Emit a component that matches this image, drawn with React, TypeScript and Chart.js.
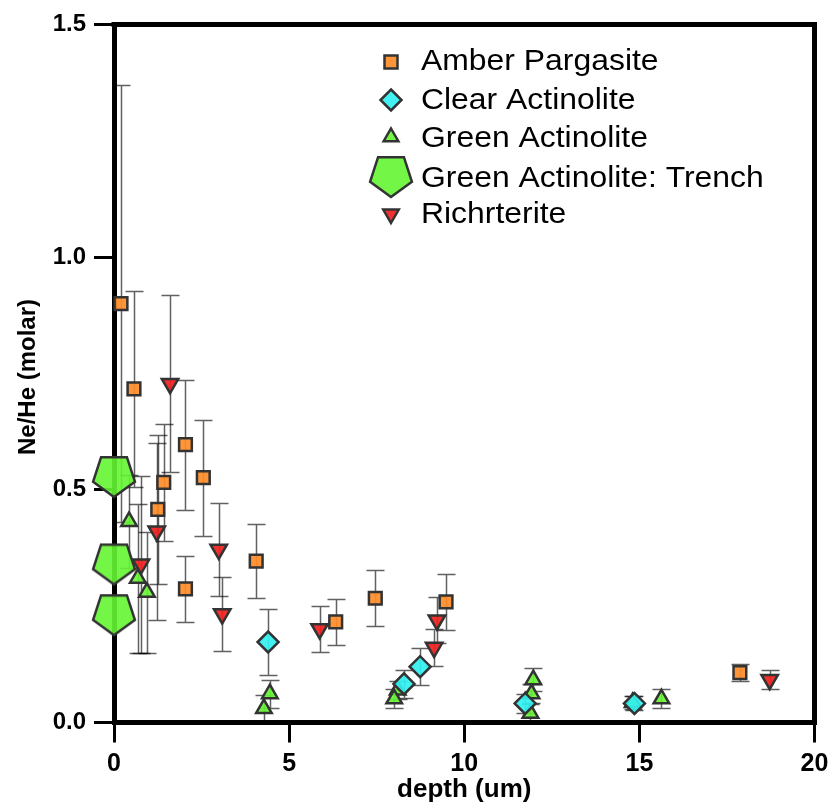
import React, { useEffect, useRef } from "react";
import { Chart, registerables } from "chart.js";
Chart.register(...registerables);

const xTickValues = [0, 5, 10, 15, 20];
const yTickValues = [0, 0.5, 1.0, 1.5];

const seriesNames = [
  "Amber Pargasite",
  "Clear Actinolite",
  "Green Actinolite",
  "Green Actinolite: Trench",
  "Richrterite",
];

const amberX = [0.2, 0.57, 1.25, 1.42, 2.04, 2.55, 2.04, 4.06, 6.33, 7.46, 9.48, 17.87];
const amberY = [0.9, 0.717, 0.458, 0.516, 0.597, 0.526, 0.287, 0.347, 0.216, 0.267, 0.259, 0.107];
const amberErr = [0.47, 0.21, 0.16, 0.125, 0.14, 0.125, 0.07, 0.08, 0.05, 0.06, 0.06, 0.018];

const clearX = [4.4, 8.28, 8.74, 11.74, 14.86];
const clearY = [0.173, 0.083, 0.12, 0.041, 0.041];
const clearErr = [0.07, 0.03, 0.04, 0.02, 0.015];

const greenX = [0.43, 0.68, 0.94, 4.45, 4.28, 8.1, 8.0, 11.97, 11.92, 11.89, 14.81, 15.63];
const greenY = [0.432, 0.31, 0.28, 0.062, 0.03, 0.07, 0.051, 0.092, 0.062, 0.02, 0.043, 0.051];
const greenErr = [0.1, 0.16, 0.13, 0.03, 0.03, 0.02, 0.02, 0.025, 0.02, 0.02, 0.015, 0.02];

const trenchX = [0, 0, 0];
const trenchY = [0.532, 0.344, 0.235];

const richX = [1.6, 1.22, 0.77, 2.99, 3.09, 5.87, 9.22, 9.14, 18.72];
const richY = [0.728, 0.411, 0.34, 0.372, 0.233, 0.201, 0.22, 0.161, 0.092];
const richErr = [0.19, 0.19, 0.19, 0.1, 0.08, 0.05, 0.05, 0.04, 0.02];

const ORANGE = "rgba(255,140,40,0.92)";
const CYAN = "rgba(50,240,240,0.92)";
const GREEN = "rgba(100,245,50,0.9)";
const RED = "rgba(240,30,30,0.92)";
const EDGE = "#333333";

function pts(xs: number[], ys: number[]) {
  return xs.map((x, i) => ({ x, y: ys[i] }));
}

function makePentagon(r: number): HTMLCanvasElement {
  const c = document.createElement("canvas");
  const s = Math.ceil(r * 2 + 6);
  c.width = s;
  c.height = s;
  const g = c.getContext("2d")!;
  const cx = s / 2;
  const cy = s / 2;
  g.beginPath();
  for (let k = 0; k < 5; k++) {
    const a = Math.PI / 2 + (k * 2 * Math.PI) / 5;
    const px = cx + r * Math.cos(a);
    const py = cy + r * Math.sin(a);
    if (k === 0) g.moveTo(px, py);
    else g.lineTo(px, py);
  }
  g.closePath();
  g.fillStyle = GREEN;
  g.fill();
  g.lineWidth = 2.5;
  g.strokeStyle = EDGE;
  g.lineJoin = "miter";
  g.stroke();
  return c;
}

function drawMarker(ctx: CanvasRenderingContext2D, kind: string, x: number, y: number, pent: HTMLCanvasElement) {
  ctx.save();
  ctx.lineWidth = 2.5;
  ctx.strokeStyle = EDGE;
  ctx.beginPath();
  if (kind === "square") {
    ctx.rect(x - 6.5, y - 6.5, 13, 13);
    ctx.fillStyle = ORANGE;
  } else if (kind === "diamond") {
    const r = 10.5;
    ctx.moveTo(x, y - r);
    ctx.lineTo(x + r, y);
    ctx.lineTo(x, y + r);
    ctx.lineTo(x - r, y);
    ctx.closePath();
    ctx.fillStyle = CYAN;
  } else if (kind === "up") {
    const r = 8.5;
    ctx.moveTo(x, y - r);
    ctx.lineTo(x + r * 0.866, y + r * 0.5);
    ctx.lineTo(x - r * 0.866, y + r * 0.5);
    ctx.closePath();
    ctx.fillStyle = GREEN;
  } else if (kind === "down") {
    const r = 9;
    ctx.moveTo(x, y + r);
    ctx.lineTo(x + r * 0.866, y - r * 0.5);
    ctx.lineTo(x - r * 0.866, y - r * 0.5);
    ctx.closePath();
    ctx.fillStyle = RED;
  } else if (kind === "pent") {
    ctx.drawImage(pent, x - pent.width / 2, y - pent.height / 2);
    ctx.restore();
    return;
  }
  ctx.fill();
  ctx.stroke();
  ctx.restore();
}

export default function App() {
  const ref = useRef<HTMLCanvasElement | null>(null);

  useEffect(() => {
    document.body.style.margin = "0";
    const canvas = ref.current!;
    const pent = makePentagon(22);

    const errorBars = {
      id: "errorBars",
      beforeDatasetsDraw(chart: any) {
        const { ctx } = chart;
        const xs = chart.scales.x;
        const ys = chart.scales.y;
        ctx.save();
        ctx.strokeStyle = "rgba(0,0,0,0.62)";
        ctx.lineWidth = 1.5;
        chart.data.datasets.forEach((ds: any) => {
          if (!ds.errors) return;
          ds.data.forEach((p: any, i: number) => {
            const e = ds.errors[i];
            const px = Math.round(xs.getPixelForValue(p.x)) + 0.5;
            const t = Math.round(ys.getPixelForValue(p.y + e)) + 0.5;
            const b = Math.round(ys.getPixelForValue(p.y - e)) + 0.5;
            ctx.beginPath();
            ctx.moveTo(px, t);
            ctx.lineTo(px, b);
            ctx.moveTo(px - 9, t);
            ctx.lineTo(px + 9, t);
            ctx.moveTo(px - 9, b);
            ctx.lineTo(px + 9, b);
            ctx.stroke();
          });
        });
        ctx.restore();
      },
    };

    const frame = {
      id: "frame",
      beforeDatasetsDraw(chart: any) {
        const { ctx, chartArea: a } = chart;
        ctx.save();
        ctx.strokeStyle = "#000";
        ctx.lineWidth = 5;
        ctx.beginPath();
        ctx.moveTo(a.left - 2.5, a.top);
        ctx.lineTo(a.right, a.top);
        ctx.lineTo(a.right, a.bottom + 2.5);
        ctx.stroke();
        ctx.restore();
      },
    };

    const annotations = {
      id: "annotations",
      afterDraw(chart: any) {
        const { ctx, chartArea: a } = chart;
        ctx.save();
        ctx.fillStyle = "#000";
        ctx.font = "bold 26px 'Liberation Sans', Arial, sans-serif";
        ctx.textAlign = "center";
        ctx.textBaseline = "middle";
        ctx.fillText("depth (um)", (a.left + a.right) / 2, 790);
        ctx.font = "bold 24px 'Liberation Sans', Arial, sans-serif";
        ctx.save();
        ctx.translate(28, 377);
        ctx.rotate(-Math.PI / 2);
        ctx.fillText("Ne/He (molar)", 0, 0);
        ctx.restore();

        const kinds = ["square", "diamond", "up", "pent", "down"];
        const markerY = [62, 100, 137, 175, 214];
        const baseY = [70, 109, 147, 187, 223];
        ctx.font = "29px 'Liberation Sans', Arial, sans-serif";
        ctx.textAlign = "left";
        ctx.textBaseline = "alphabetic";
        seriesNames.forEach((name, i) => {
          drawMarker(ctx, kinds[i], 391, markerY[i], pent);
          ctx.save();
          ctx.translate(421, baseY[i]);
          ctx.scale(1.1, 1);
          ctx.fillText(name, 0, 0);
          ctx.restore();
        });
        ctx.restore();
      },
    };

    const common = {
      pointBorderColor: EDGE,
      pointBorderWidth: 2.5,
      showLine: false,
      clip: false as any,
    };

    const chart = new Chart(canvas, {
      type: "scatter",
      data: {
        datasets: [
          {
            ...common,
            label: seriesNames[0],
            data: pts(amberX, amberY),
            errors: amberErr,
            pointStyle: "rect",
            pointRadius: 9,
            pointBackgroundColor: ORANGE,
          } as any,
          {
            ...common,
            label: seriesNames[1],
            data: pts(clearX, clearY),
            errors: clearErr,
            pointStyle: "rectRot",
            pointRadius: 10.5,
            pointBackgroundColor: CYAN,
          } as any,
          {
            ...common,
            label: seriesNames[2],
            data: pts(greenX, greenY),
            errors: greenErr,
            pointStyle: "triangle",
            pointRadius: 9,
            pointBackgroundColor: GREEN,
          } as any,
          {
            ...common,
            label: seriesNames[3],
            data: pts(trenchX, trenchY),
            pointStyle: pent,
            pointRadius: 22,
            pointBackgroundColor: GREEN,
          } as any,
          {
            ...common,
            label: seriesNames[4],
            data: pts(richX, richY),
            errors: richErr,
            pointStyle: "triangle",
            rotation: 180,
            pointRotation: 180,
            pointRadius: 9.5,
            pointBackgroundColor: RED,
          } as any,
        ],
      },
      options: {
        animation: false,
        responsive: false,
        events: [],
        layout: { padding: { top: 22, right: 19.5, left: 0, bottom: 0 } },
        plugins: {
          legend: { display: false },
          tooltip: { enabled: false },
        },
        scales: {
          x: {
            type: "linear",
            min: 0,
            max: 20,
            afterBuildTicks: (s: any) => {
              s.ticks = xTickValues.map((v) => ({ value: v }));
            },
            ticks: {
              color: "#000",
              font: { family: "'Liberation Sans', Arial, sans-serif", size: 25, weight: "bold" },
              padding: 7,
              maxRotation: 0,
              callback: (v: any) => String(v),
            },
            grid: {
              drawOnChartArea: false,
              drawTicks: true,
              tickLength: 20,
              tickWidth: 3,
              tickColor: "#000",
              color: "#000",
            },
            border: { display: true, width: 5, color: "#000" },
            afterFit: (s: any) => {
              s.height = 87.5;
              s.paddingLeft = 0;
              s.paddingRight = 0;
            },
          },
          y: {
            type: "linear",
            min: 0,
            max: 1.5,
            afterBuildTicks: (s: any) => {
              s.ticks = yTickValues.map((v) => ({ value: v }));
            },
            ticks: {
              color: "#000",
              font: { family: "'Liberation Sans', Arial, sans-serif", size: 24, weight: "bold" },
              padding: 8,
              callback: (v: any) => Number(v).toFixed(1),
            },
            grid: {
              drawOnChartArea: false,
              drawTicks: true,
              tickLength: 20,
              tickWidth: 3,
              tickColor: "#000",
              color: "#000",
            },
            border: { display: true, width: 5, color: "#000" },
            afterFit: (s: any) => {
              s.width = 114;
              s.paddingTop = 0;
              s.paddingBottom = 0;
            },
          },
        },
      } as any,
      plugins: [frame, errorBars, annotations],
    });

    return () => chart.destroy();
  }, []);

  return (
    <div style={{ width: 839, height: 810 }}>
      <canvas ref={ref} width={839} height={810} style={{ width: 839, height: 810, display: "block" }} />
    </div>
  );
}
